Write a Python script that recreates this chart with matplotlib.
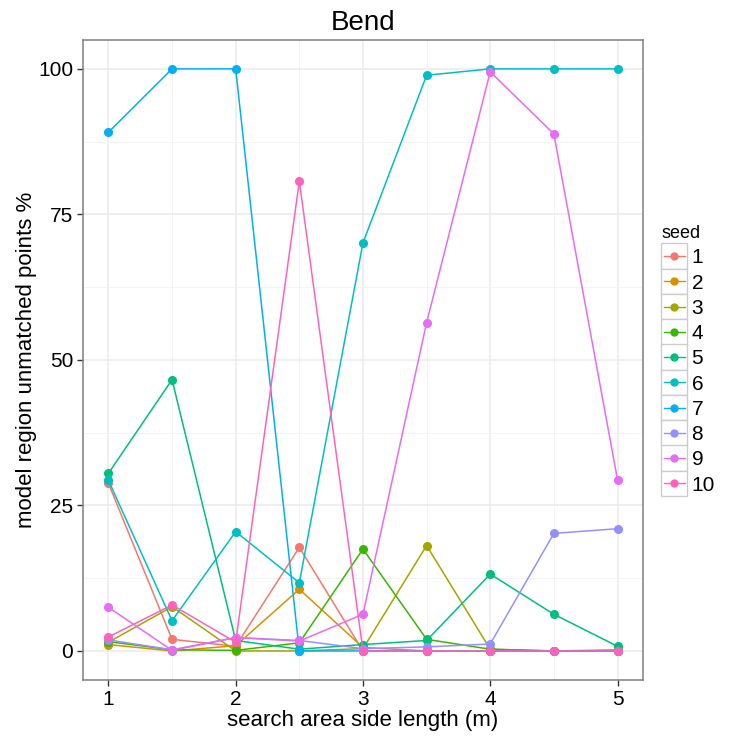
import numpy as np
import matplotlib
matplotlib.use("Agg")
import matplotlib.pyplot as plt
from matplotlib.legend_handler import HandlerBase
from matplotlib.lines import Line2D
from matplotlib.patches import Rectangle

plt.rcParams['font.family'] = ['Liberation Sans', 'DejaVu Sans']

# search area side lengths (m)
side_length = [1, 1.5, 2, 2.5, 3, 3.5, 4, 4.5, 5]

# unmatched points % per seed
seed_1 = [28.8, 2.0, 0.8, 17.8, 0.0, 0.0, 0.0, 0.0, 0.0]
seed_2 = [1.1, 0.0, 0.9, 10.6, 0.6, 0.0, 0.0, 0.0, 0.2]
seed_3 = [1.5, 7.6, 0.0, 0.0, 0.4, 18.1, 0.3, 0.0, 0.0]
seed_4 = [1.6, 0.2, 0.1, 1.4, 17.5, 2.0, 0.3, 0.0, 0.0]
seed_5 = [30.5, 46.6, 1.8, 0.3, 1.1, 1.8, 13.2, 6.3, 0.8]
seed_6 = [29.3, 5.2, 20.5, 11.7, 70.1, 98.9, 100.0, 100.0, 100.0]
seed_7 = [89.1, 100.0, 100.0, 0.0, 0.0, 0.0, 0.0, 0.0, 0.0]
seed_8 = [1.9, 0.2, 2.3, 1.8, 0.4, 0.7, 1.2, 20.2, 21.0]
seed_9 = [7.5, 0.1, 2.3, 1.7, 6.3, 56.4, 99.5, 88.8, 29.4]
seed_10 = [2.4, 7.9, 1.5, 80.7, 0.0, 0.0, 0.0, 0.0, 0.0]

seeds = ["1", "2", "3", "4", "5", "6", "7", "8", "9", "10"]
series = [seed_1, seed_2, seed_3, seed_4, seed_5,
          seed_6, seed_7, seed_8, seed_9, seed_10]
colors = ["#F8766D", "#D89000", "#A3A500", "#39B600", "#00BF7D",
          "#00BFC4", "#00B0F6", "#9590FF", "#E76BF3", "#FF62BC"]

x_ticks = [1, 2, 3, 4, 5]
y_ticks = [0, 25, 50, 75, 100]

KEY_PITCH = 18.4  # legend row pitch in points


class KeyHandler(HandlerBase):
    # legend key: grey bordered box with a line and a point
    def create_artists(self, legend, orig_handle, xdescent, ydescent,
                       width, height, fontsize, trans):
        col = orig_handle.get_color()
        y = -ydescent + height / 2
        box = Rectangle((-xdescent, y - KEY_PITCH / 2), width, KEY_PITCH,
                        facecolor="white", edgecolor="#CCCCCC", lw=1.0,
                        transform=trans)
        ln = Line2D([-xdescent + 2, -xdescent + width - 2], [y, y],
                    color=col, lw=1.0, transform=trans)
        pt = Line2D([-xdescent + width / 2], [y], marker="o", ms=5,
                    color=col, lw=0, transform=trans)
        return [box, ln, pt]


fig = plt.figure(figsize=(7.34, 7.36), dpi=100)
ax = fig.add_axes([0.113, 0.076, 0.763, 0.870])

handles = []
for name, vals, col in zip(seeds, series, colors):
    h, = ax.plot(side_length, vals, color=col, lw=1.1, marker="o", ms=5.5,
                 label=name, zorder=3)
    handles.append(h)

ax.set_xlim(0.8, 5.2)
ax.set_ylim(-5, 105)
ax.set_xticks(x_ticks)
ax.set_yticks(y_ticks)
ax.set_xticks([1.5, 2.5, 3.5, 4.5], minor=True)
ax.set_yticks([12.5, 37.5, 62.5, 87.5], minor=True)
ax.grid(which="major", color="#EBEBEB", lw=1.1, zorder=0)
ax.grid(which="minor", color="#F2F2F2", lw=0.6, zorder=0)
ax.set_axisbelow(True)
ax.tick_params(which="major", length=4, width=1, color="#333333",
               labelsize=15, labelcolor="black", pad=3)
ax.tick_params(which="minor", length=0)
for sp in ax.spines.values():
    sp.set_color("#7F7F7F")
    sp.set_linewidth(1.1)

ax.set_title("Bend", fontsize=20, pad=7)
ax.set_xlabel("search area side length (m)", fontsize=16, labelpad=1)
ax.set_ylabel("model region unmatched points %", fontsize=16, labelpad=1)

leg = fig.legend(handles=handles, labels=seeds, title="seed",
                 handler_map={Line2D: KeyHandler()},
                 loc="upper left", bbox_to_anchor=(0.901, 0.694),
                 frameon=False, fontsize=15, title_fontsize=13,
                 handlelength=1.25, handleheight=0.7, handletextpad=0.2,
                 labelspacing=0.3, borderaxespad=0, borderpad=0,
                 alignment="left")

fig.savefig("out.png", dpi=100, facecolor="white")
